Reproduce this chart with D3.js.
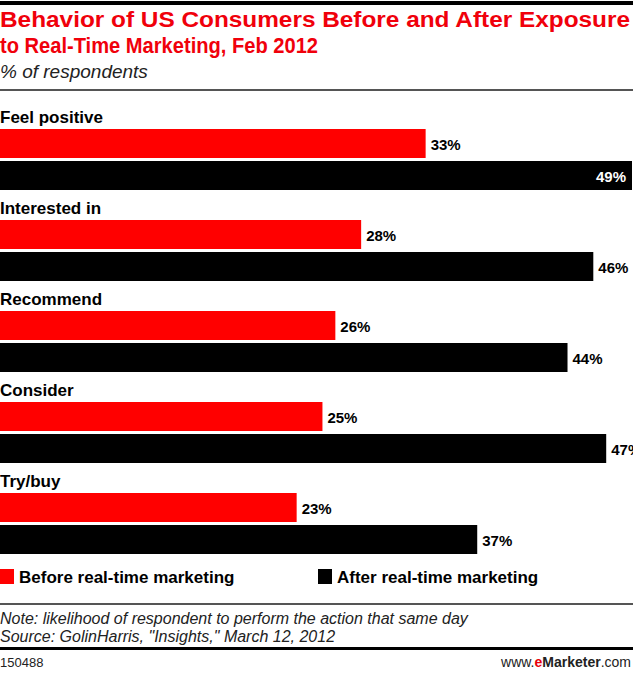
<!DOCTYPE html><html><head><meta charset="utf-8">
<script src="https://cdn.jsdelivr.net/npm/d3@7"></script>
<style>body{margin:0;background:#fff}svg{display:block;font-family:Arial,"Liberation Sans",sans-serif}</style></head><body>
<svg id="c" width="633" height="674"></svg>
<script>
const categories=["Feel positive","Interested in","Recommend","Consider","Try/buy"];
const before=[33,28,26,25,23];
const after=[49,46,44,47,37];
const seriesNames=["Before real-time marketing","After real-time marketing"];
const colors=["#ff0000","#000000"];
const svg=d3.select("#c");
const x=d3.scaleLinear().domain([0,49]).range([0,632]);
const y=d3.scaleBand().domain(categories).range([100,555]);
svg.append("rect").attr("x",0).attr("y",1).attr("width",633).attr("height",4).attr("fill","#000");
svg.append("text").attr("x",0).attr("y",27).attr("fill","#f0000b").attr("font-weight","bold").attr("font-size",22).attr("textLength",630).attr("lengthAdjust","spacingAndGlyphs").text("Behavior of US Consumers Before and After Exposure");
svg.append("text").attr("x",0).attr("y",53).attr("fill","#f0000b").attr("font-weight","bold").attr("font-size",22).attr("textLength",318).attr("lengthAdjust","spacingAndGlyphs").text("to Real-Time Marketing, Feb 2012");
svg.append("text").attr("x",0).attr("y",78).attr("font-style","italic").attr("font-size",19).attr("fill","#222").text("% of respondents");
svg.append("rect").attr("x",0).attr("y",89).attr("width",633).attr("height",2).attr("fill","#555");
categories.forEach((c,i)=>{
  const y0=y(c);
  svg.append("text").attr("x",0).attr("y",y0+23).attr("font-weight","bold").attr("font-size",17).text(c);
  [[before[i],0,y0+29],[after[i],1,y0+61]].forEach(([v,s,yy])=>{
    svg.append("rect").attr("x",0).attr("y",yy).attr("width",x(v)).attr("height",29).attr("fill",colors[s]);
    const inside=x(v)>615;
    svg.append("text").attr("x",inside?x(v)-6:x(v)+5).attr("y",yy+21)
      .attr("text-anchor",inside?"end":"start").attr("fill",inside?"#fff":"#000")
      .attr("font-weight","bold").attr("font-size",15).text(v+"%");
  });
});
[[0,0],[318,1]].forEach(([lx,s])=>{
  svg.append("rect").attr("x",lx).attr("y",569).attr("width",14).attr("height",15).attr("fill",colors[s]);
  svg.append("text").attr("x",lx+19).attr("y",583).attr("font-weight","bold").attr("font-size",17).text(seriesNames[s]);
});
svg.append("rect").attr("x",0).attr("y",603).attr("width",633).attr("height",2).attr("fill","#555");
svg.append("text").attr("x",0).attr("y",624).attr("font-style","italic").attr("font-size",16).attr("fill","#222").text("Note: likelihood of respondent to perform the action that same day");
svg.append("text").attr("x",0).attr("y",642).attr("font-style","italic").attr("font-size",16).attr("fill","#222").text("Source: GolinHarris, \"Insights,\" March 12, 2012");
svg.append("rect").attr("x",0).attr("y",647).attr("width",633).attr("height",3).attr("fill","#000");
svg.append("text").attr("x",0).attr("y",667).attr("font-size",13).attr("fill","#222").text("150488");
const t=svg.append("text").attr("x",631).attr("y",667).attr("text-anchor","end").attr("font-size",14).attr("fill","#222");
t.append("tspan").text("www.");
t.append("tspan").attr("fill","#e8000b").attr("font-weight","bold").text("e");
t.append("tspan").attr("font-weight","bold").text("Marketer");
t.append("tspan").text(".com");
</script></body></html>
